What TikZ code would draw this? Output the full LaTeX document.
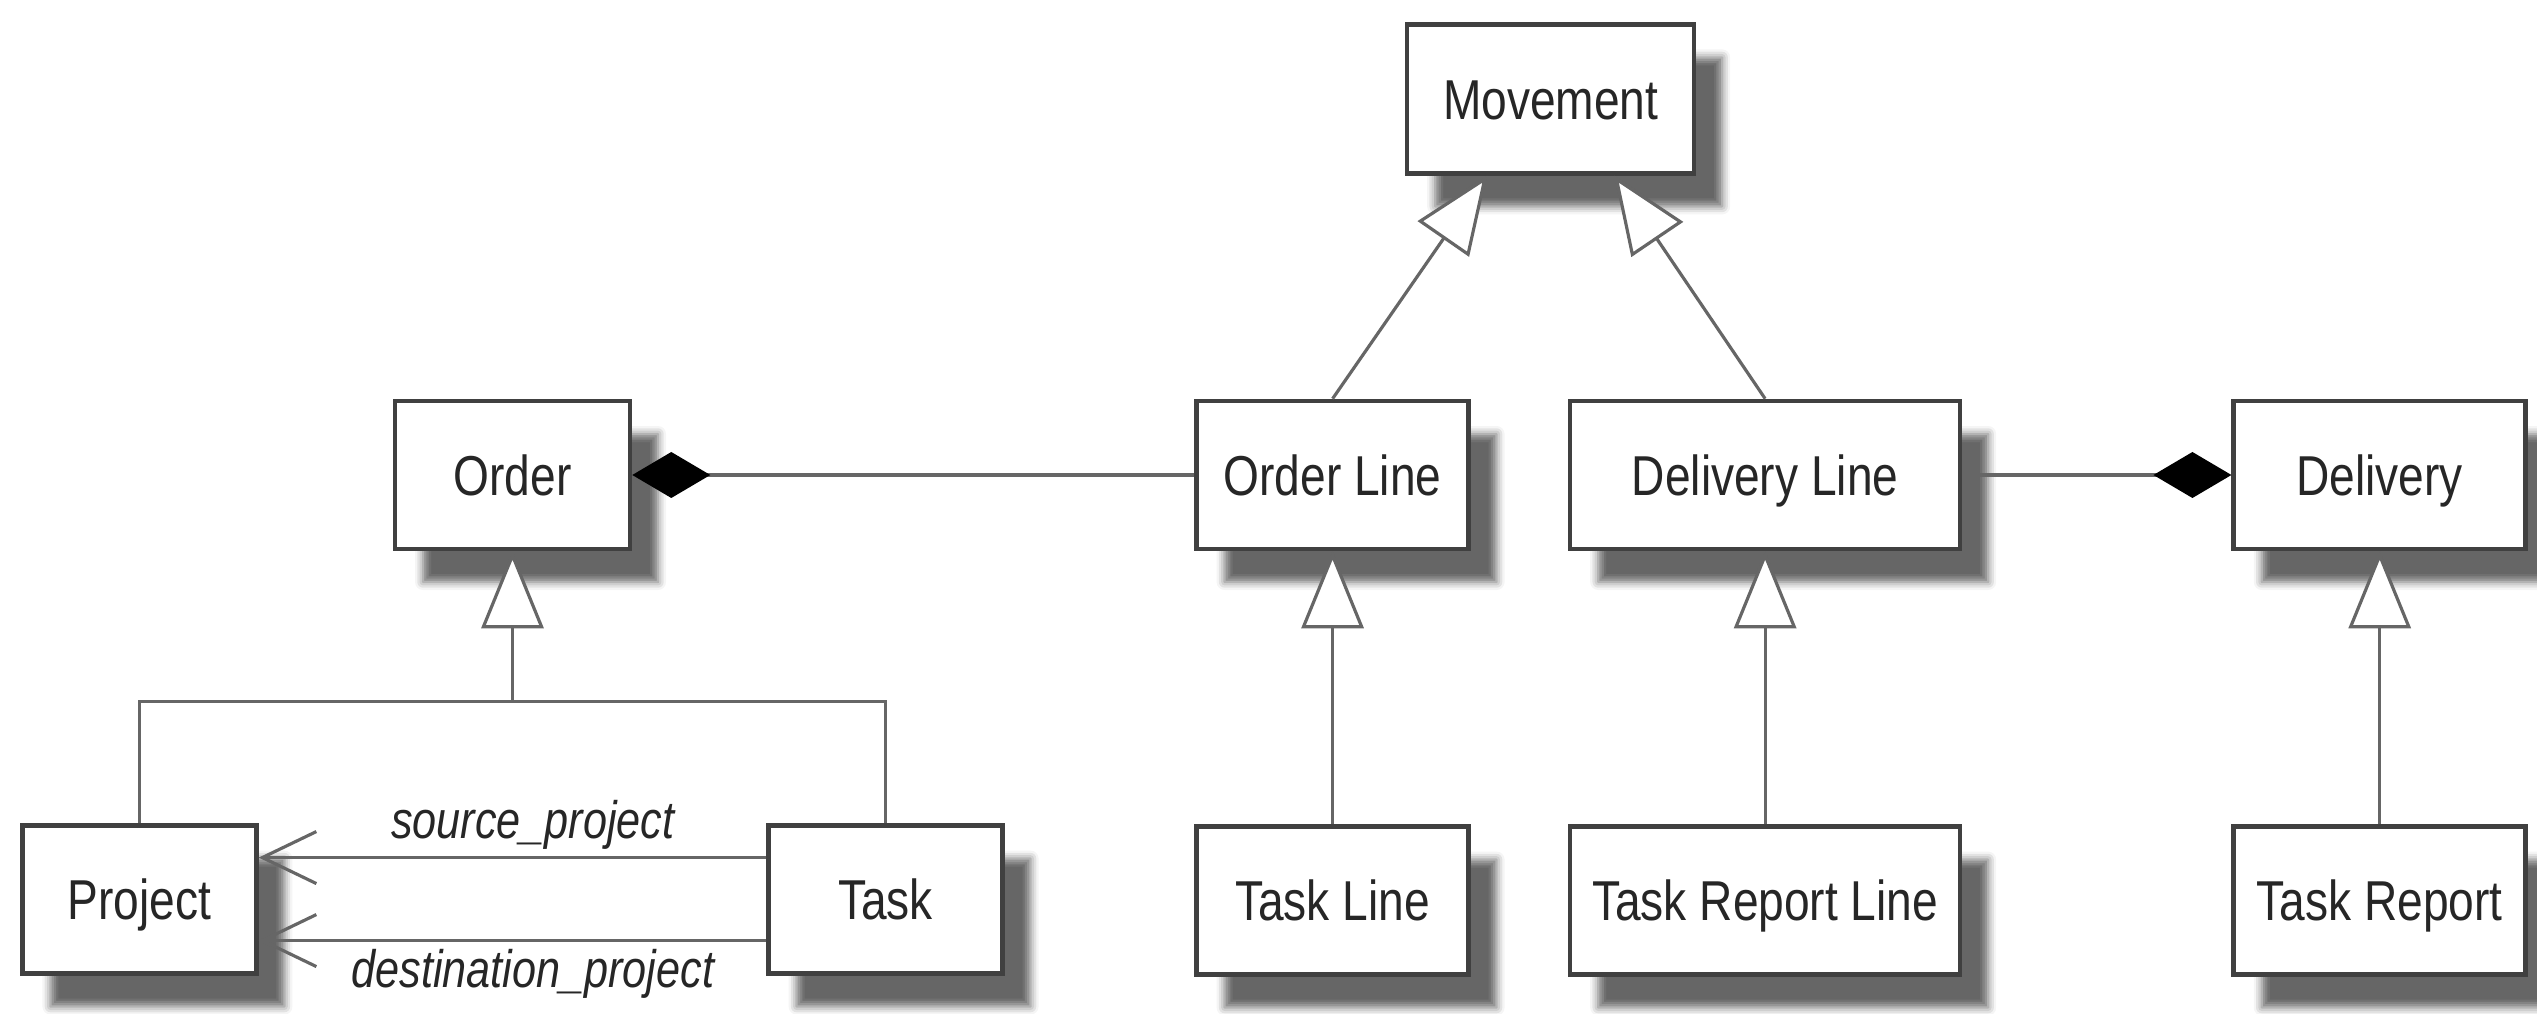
\documentclass[tikz,border=0pt]{standalone}
\usepackage{fontspec}
\setmainfont{Liberation Sans}[FakeStretch=0.82]
\usetikzlibrary{positioning,arrows.meta,shadows.blur}

\begin{document}
\begin{tikzpicture}[class node/.style={rectangle,draw=black!75,line width=1.3pt,fill=white,
                    minimum height=1.48cm,text height=11.5pt,text depth=0pt,text=black!85,font=\fontsize{16}{19}\selectfont,
                    blur shadow={shadow xshift=0.28cm,shadow yshift=-0.33cm,shadow opacity=60,shadow blur radius=0.08cm}},
                    link/.style={draw=black!60,line width=0.9pt},
                    inherit/.style={link,-{Triangle[open,fill=white,length=0.77cm,width=0.62cm]}},
                    whole/.style={link,-{Diamond[color=black,length=0.78cm,width=0.46cm]}},
                    assoc/.style={link,-{Straight Barb[length=0.54cm,width=0.52cm]}},
                    role/.style={text=black!85,inner sep=2pt,font=\itshape\fontsize{15}{18}\selectfont}]
                    \useasboundingbox (0,0) rectangle (25.37,-10.14);
                    	\node[class node,minimum width=2.35cm] (order) at (5.125,-4.75) {Order};
                    	\node[class node,minimum width=2.72cm] (orderline) [right=5.62cm of order] {Order Line};
                    	\node[class node,minimum width=3.9cm] (deliveryline) [right=0.97cm of orderline] {Delivery Line};
                    	\node[class node,minimum width=2.92cm] (delivery) [right=2.69cm of deliveryline] {Delivery};
                    	\node[class node,minimum width=2.87cm,minimum height=1.49cm] (movement) [above right=2.23cm and -0.66cm of orderline] {Movement};
                    	\node[class node,minimum width=2.34cm] (project) [below left=2.72cm and 1.34cm of order] {Project};
                    	\node[class node,minimum width=2.34cm] (task) [below right=2.72cm and 1.34cm of order] {Task};
                    	\node[class node,minimum width=2.72cm] (taskline) [below=2.73cm of orderline] {Task Line};
                    	\node[class node,minimum width=3.9cm] (taskreportline) [below=2.73cm of deliveryline] {Task Report Line};
                    	\node[class node,minimum width=2.92cm] (taskreport) [below=2.73cm of delivery] {Task Report};
                    	\coordinate (join) at ([yshift=-1.5cm]order.south);

                    \draw[link] (project.north) |- (join) -| (task.north);
                    \path (join) edge[inherit] (order)
                    	(taskline) edge[inherit] (orderline)
                    	(taskreportline) edge[inherit] (deliveryline)
                    	(taskreport) edge[inherit] (delivery)
                    	(orderline.north) edge[inherit] ([xshift=-0.635cm]movement.south)
                    	(deliveryline.north) edge[inherit] ([xshift=0.635cm]movement.south)
                    	(orderline) edge[whole] (order)
                    	(deliveryline) edge[whole] (delivery)
                    	([yshift=0.42cm]task.west) edge[assoc] node[role,above,pos=0.46] {source\_project} ([yshift=0.42cm]project.east)
                    	([yshift=-0.41cm]task.west) edge[assoc] node[role,below,pos=0.46] {destination\_project} ([yshift=-0.41cm]project.east);

				\end{tikzpicture}
\end{document}
